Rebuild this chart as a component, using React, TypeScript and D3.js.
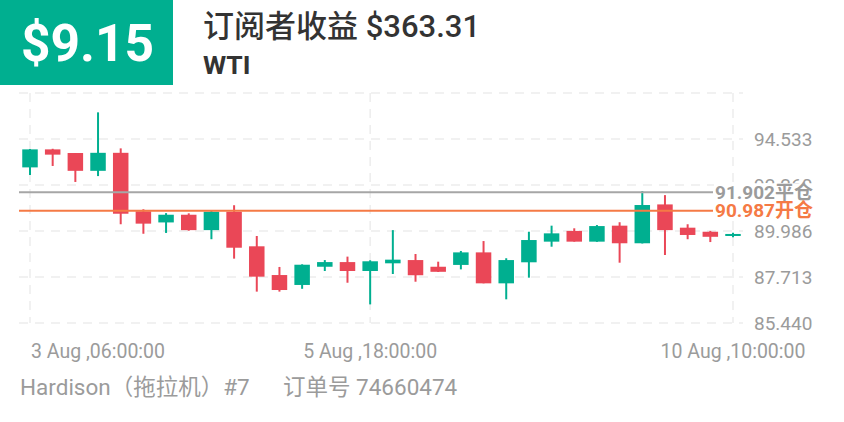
import React from "react";
import * as d3 from "d3";

const opens = [93.13, 94.02, 93.84, 92.96, 93.85, 90.96, 90.41, 90.79, 90.03, 90.94, 89.23, 87.81, 87.32, 88.22, 88.45, 88.01, 88.39, 88.55, 88.22, 88.31, 88.93, 87.40, 88.44, 89.46, 89.99, 89.46, 90.25, 89.38, 91.30, 90.15, 89.95, 89.74];
const closes = [94.02, 93.76, 92.96, 93.85, 90.84, 90.35, 90.79, 90.03, 90.94, 89.16, 87.73, 87.07, 88.32, 88.45, 88.01, 88.49, 88.57, 87.80, 87.97, 88.93, 87.40, 88.55, 89.54, 89.87, 89.46, 90.23, 89.38, 91.27, 90.03, 89.79, 89.70, 89.84];
const highs = [94.04, 94.05, 93.84, 95.85, 94.07, 91.06, 90.87, 90.86, 91.02, 91.26, 89.74, 88.21, 88.34, 88.55, 88.72, 88.54, 90.03, 88.85, 88.47, 89.0, 89.49, 88.64, 89.95, 90.25, 90.12, 90.28, 90.42, 91.96, 91.76, 90.32, 89.99, 89.90];
const lows = [92.75, 93.20, 92.41, 92.70, 90.32, 89.85, 89.89, 90.0, 89.58, 88.62, 86.99, 86.99, 87.13, 88.01, 87.43, 86.36, 87.86, 87.48, 87.96, 88.09, 87.40, 86.61, 87.68, 89.21, 89.46, 89.45, 88.42, 89.37, 88.80, 89.58, 89.44, 89.68];

const yTickValues = [85.44, 87.713, 89.986, 92.259, 94.532, 96.805];
const yTickLabels = ["85.440", "87.713", "89.986", "92.260", "94.533", ""];
const xTickIndex = [0, 15, 31];
const xTickLabels = ["3 Aug ,06:00:00", "5 Aug ,18:00:00", "10 Aug ,10:00:00"];

const closePrice = 91.902;
const openPrice = 90.987;
const closeLabel = "91.902平仓";
const openLabel = "90.987开仓";
const profit = "$9.15";
const title = "订阅者收益 $363.31";
const symbol = "WTI";
const footerLeft = "Hardison（拖拉机）#7";
const footerRight = "订单号 74660474";

const GREEN = "#00AF90";
const RED = "#EA4757";
const ORANGE = "#F57A45";
const GRAY_LINE = "#A6A6A6";
const TEXT_GRAY = "#9B9B9B";
const FONT = "Roboto, 'Noto Sans CJK SC', sans-serif";

export default function App() {
  const W = 844, H = 422;
  const x = d3.scaleLinear().domain([0, opens.length - 1]).range([30, 733]);
  const y = d3.scaleLinear().domain([85.44, 96.806]).range([323, 93]);
  const bodyW = 15.5;
  const gridLeft = 19, gridRight = 743;

  return (
    <svg width={W} height={H} style={{ position: "absolute", left: 0, top: 0, background: "#fff" }} fontFamily={FONT}>
      <rect x={0} y={0} width={W} height={H} fill="#fff" />
      {/* header */}
      <rect x={0} y={0} width={173} height={85} fill="#00AF90" />
      <text x={21} y={61} fill="#fff" fontSize={51.5} fontWeight="bold">{profit}</text>
      <text x={203} y={37} fill="#333" fontSize={31} fontWeight={500}>{title}</text>
      <text x={203} y={74} fill="#333" fontSize={26.5} fontWeight="bold">{symbol}</text>

      {/* grid */}
      {yTickValues.map((v, i) => (
        <line key={"hg" + i} x1={gridLeft} x2={gridRight} y1={y(v)} y2={y(v)} stroke="#EDEDED" strokeWidth={1.5} strokeDasharray="9,7" />
      ))}
      {xTickIndex.map((idx, i) => (
        <line key={"vg" + i} x1={x(idx)} x2={x(idx)} y1={y(96.805)} y2={y(85.44)} stroke="#EDEDED" strokeWidth={1.5} strokeDasharray="9,7" />
      ))}

      {/* y tick labels */}
      {yTickValues.map((v, i) => (
        <text key={"yl" + i} x={754} y={y(v)} dy="0.35em" fill={TEXT_GRAY} fontSize={19}>{yTickLabels[i]}</text>
      ))}

      {/* x tick labels */}
      {xTickIndex.map((idx, i) => (
        <text key={"xl" + i} x={i === 0 ? x(idx) + 1 : x(idx)} y={358} fill={TEXT_GRAY} fontSize={19.5}
          textAnchor={i === 0 ? "start" : "middle"}>{xTickLabels[i]}</text>
      ))}

      {/* candles */}
      {opens.map((o, i) => {
        const c = closes[i];
        const up = c >= o;
        const col = up ? GREEN : RED;
        const top = y(Math.max(o, c));
        const bot = y(Math.min(o, c));
        return (
          <g key={"c" + i}>
            <line x1={x(i)} x2={x(i)} y1={y(highs[i])} y2={y(lows[i])} stroke={col} strokeWidth={2} />
            <rect x={x(i) - bodyW / 2} y={top} width={bodyW} height={Math.max(1.5, bot - top)} fill={col} />
          </g>
        );
      })}

      {/* price lines */}
      <line x1={gridLeft} x2={713} y1={y(closePrice)} y2={y(closePrice)} stroke={GRAY_LINE} strokeWidth={2} />
      <line x1={gridLeft} x2={713} y1={y(openPrice)} y2={y(openPrice)} stroke={ORANGE} strokeWidth={2} />
      <rect x={714} y={y(closePrice) - 9} width={104} height={18} fill="#fff" />
      <text x={715} y={y(closePrice)} dy="0.35em" fill={TEXT_GRAY} fontSize={19} fontWeight="bold">{closeLabel}</text>
      <rect x={714} y={y(openPrice) - 9} width={104} height={18} fill="#fff" />
      <text x={715} y={y(openPrice)} dy="0.35em" fill={ORANGE} fontSize={19} fontWeight="bold">{openLabel}</text>

      {/* footer */}
      <text x={20} y={395} fill={TEXT_GRAY} fontSize={22.5}>{footerLeft}</text>
      <text x={283} y={395} fill={TEXT_GRAY} fontSize={22.5}>{footerRight}</text>
    </svg>
  );
}
